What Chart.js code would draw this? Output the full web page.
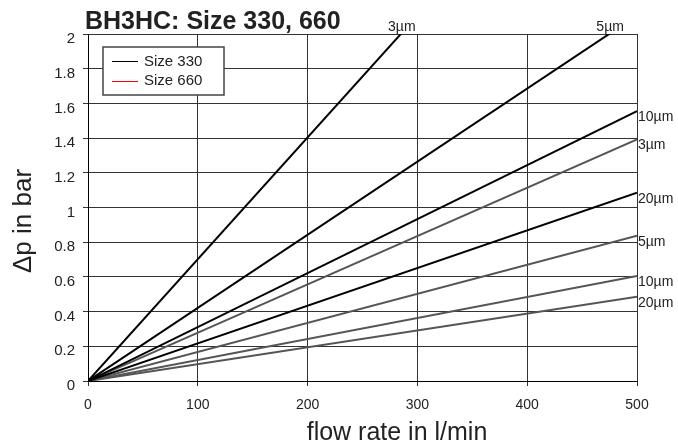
<!DOCTYPE html>
<html lang="en">
<head>
    <meta charset="UTF-8">
    <title>BH3HC: Size 330, 660</title>
    <script src="https://cdn.jsdelivr.net/npm/chart.js@4"></script>
    <style>
        body {
            margin: 0;
            background-color: #ffffff;
        }
        .chart-box {
            width: 678px;
            height: 448px;
        }
    </style>
</head>
<body>
    <div class="chart-box">
        <canvas id="dpChart"></canvas>
    </div>

    <script>
        // flow rate range (l/min) and pressure drop at 500 l/min for each filter grade
        const flowRates = [0, 500];
        const grades = ['3µm', '5µm', '10µm', '20µm'];
        const dpSize330 = [3.51, 2.107, 1.556, 1.085];
        const dpSize660 = [1.393, 0.837, 0.605, 0.486];
        const yTicks = [0, 0.2, 0.4, 0.6, 0.8, 1, 1.2, 1.4, 1.6, 1.8, 2];
        const xTicks = [0, 100, 200, 300, 400, 500];

        const FONT = "'Liberation Sans', Arial, sans-serif";

        function makeDataset(label, endValue, color) {
            return {
                label: label,
                data: [{ x: flowRates[0], y: 0 }, { x: flowRates[1], y: endValue }],
                borderColor: color,
                borderWidth: 2,
                pointRadius: 0,
                showLine: true
            };
        }

        const datasets = [];
        grades.forEach((g, i) => datasets.push(makeDataset(g, dpSize330[i], '#000000')));
        grades.forEach((g, i) => datasets.push(makeDataset(g, dpSize660[i], '#555555')));

        // title, axis titles, legend box and line labels
        const decorations = {
            id: 'decorations',
            afterDraw(chart) {
                const ctx = chart.ctx;
                const area = chart.chartArea;
                const xs = chart.scales.x;
                const ys = chart.scales.y;
                ctx.save();

                ctx.fillStyle = '#222';
                ctx.font = 'bold 25px ' + FONT;
                ctx.textAlign = 'left';
                ctx.textBaseline = 'alphabetic';
                ctx.fillText('BH3HC: Size 330, 660', 85, 29);

                ctx.font = '25px ' + FONT;
                ctx.textAlign = 'center';
                ctx.textBaseline = 'alphabetic';
                ctx.fillText('flow rate in l/min', 397, 440);
                ctx.save();
                ctx.translate(31, 221);
                ctx.rotate(-Math.PI / 2);
                ctx.font = '26px ' + FONT;
                ctx.fillText('\u0394p in bar', 0, 0);
                ctx.restore();

                // legend
                ctx.fillStyle = '#ffffff';
                ctx.fillRect(103, 47, 121, 48);
                ctx.strokeStyle = '#444';
                ctx.lineWidth = 1.5;
                ctx.strokeRect(103, 47, 121, 48);
                ctx.lineWidth = 1;
                ctx.strokeStyle = '#000';
                ctx.beginPath(); ctx.moveTo(112, 61.5); ctx.lineTo(138, 61.5); ctx.stroke();
                ctx.strokeStyle = '#ff0000';
                ctx.beginPath(); ctx.moveTo(112, 81.5); ctx.lineTo(138, 81.5); ctx.stroke();
                ctx.fillStyle = '#222';
                ctx.font = '15px ' + FONT;
                ctx.textAlign = 'left';
                ctx.textBaseline = 'middle';
                ctx.fillText('Size 330', 144, 62);
                ctx.fillText('Size 660', 144, 81);

                // line labels
                ctx.font = '14px ' + FONT;
                const yMax = ys.max;
                [dpSize330, dpSize660].forEach(arr => {
                    arr.forEach((v, i) => {
                        if (v > yMax) {
                            const xCross = flowRates[1] * yMax / v;
                            ctx.textAlign = 'center';
                            ctx.textBaseline = 'alphabetic';
                            ctx.fillText(grades[i], xs.getPixelForValue(xCross) + 1, area.top - 3);
                        } else {
                            ctx.textAlign = 'left';
                            ctx.textBaseline = 'middle';
                            ctx.fillText(grades[i], area.right + 1, ys.getPixelForValue(v) + 6);
                        }
                    });
                });
                ctx.restore();
            }
        };

        new Chart(document.getElementById('dpChart'), {
            type: 'scatter',
            data: { datasets: datasets },
            options: {
                responsive: true,
                maintainAspectRatio: false,
                animation: false,
                layout: { padding: { top: 34, right: 41, left: 0, bottom: 0 } },
                plugins: {
                    legend: { display: false },
                    tooltip: { enabled: false }
                },
                scales: {
                    x: {
                        type: 'linear',
                        min: xTicks[0],
                        max: xTicks[xTicks.length - 1],
                        afterFit: s => { s.height = 67; },
                        afterBuildTicks: s => { s.ticks = xTicks.map(v => ({ value: v })); },
                        grid: { color: '#333', lineWidth: 1, tickLength: 5 },
                        border: { color: '#000', width: 1 },
                        ticks: { color: '#222', padding: 11, font: { family: FONT, size: 14 } }
                    },
                    y: {
                        type: 'linear',
                        min: yTicks[0],
                        max: yTicks[yTicks.length - 1],
                        afterFit: s => { s.width = 88; },
                        afterBuildTicks: s => { s.ticks = yTicks.map(v => ({ value: v })); },
                        grid: { color: '#333', lineWidth: 1, tickLength: 5 },
                        border: { color: '#000', width: 1 },
                        ticks: {
                            color: '#222',
                            padding: 8,
                            labelOffset: 5,
                            font: { family: FONT, size: 15 },
                            callback: v => String(Math.round(v * 10) / 10)
                        }
                    }
                }
            },
            plugins: [decorations]
        });
    </script>
</body>
</html>
